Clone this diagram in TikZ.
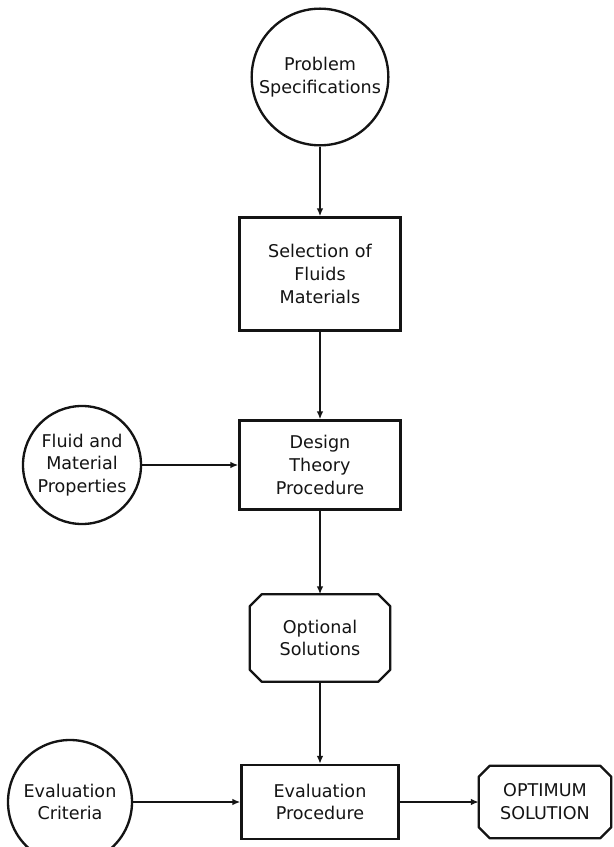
\documentclass[tikz,border=0pt]{standalone}
\usepackage{fontspec}
\setmainfont{DejaVu Sans}
\usepackage{tikz}
\usetikzlibrary{arrows.meta}
\definecolor{InkBlack}{HTML}{141414}
\tikzset{
  circ/.style={draw=InkBlack, line width=2pt, circle, inner sep=0pt, align=center},
  stagebox/.style={draw=InkBlack, line width=2pt, rectangle, inner sep=0pt, align=center},
  chambox/.style={rectangle, inner sep=0pt, align=center},
  flow/.style={draw=InkBlack, line width=1.8pt, -{Latex[length=2.4mm,width=2mm]}}
}
\newcommand{\chamferframe}[2]{%
  \draw[InkBlack, line width=2pt, line join=round]
    ([xshift=#2]#1.north west) -- ([xshift=-#2]#1.north east)
    -- ([yshift=-#2]#1.north east) -- ([yshift=#2]#1.south east)
    -- ([xshift=-#2]#1.south east) -- ([xshift=#2]#1.south west)
    -- ([yshift=#2]#1.south west) -- ([yshift=-#2]#1.north west) -- cycle;}

\begin{document}
\begin{tikzpicture}[x=0.03cm, y=-0.03cm, font=\fontsize{15}{19.5}\selectfont, text=InkBlack]
\useasboundingbox (0,0) rectangle (613,847);
\fill[white] (0,0) rectangle (613,847);
\node[circ, minimum size=4.1cm] (prob) at (320,77) {Problem\\Specifications};
\node[stagebox, minimum width=4.83cm, minimum height=3.39cm] (sel) at (320,274) {Selection of\\Fluids\\Materials};
\node[circ, minimum size=3.54cm] (props) at (82,465) {Fluid and\\Material\\Properties};
\node[stagebox, minimum width=4.83cm, minimum height=2.67cm] (design) at (320,465) {Design\\Theory\\Procedure};
\node[chambox, minimum width=4.2cm, minimum height=2.61cm] (options) at (320,638) {Optional\\Solutions};
\node[stagebox, minimum width=4.71cm, minimum height=2.22cm] (evalproc) at (320,802) {Evaluation\\Procedure};
\node[circ, minimum size=3.72cm] (criteria) at (70,802) {Evaluation\\Criteria};
\node[chambox, minimum width=3.96cm, minimum height=2.16cm] (optimum) at (545,802) {OPTIMUM\\SOLUTION};
\chamferframe{options}{0.36cm}
\chamferframe{optimum}{0.33cm}
\draw[flow] (prob) -- (sel);
\draw[flow] (sel) -- (design);
\draw[flow] (props) -- (design);
\draw[flow] (design) -- (options);
\draw[flow] (options) -- (evalproc);
\draw[flow] (criteria) -- (evalproc);
\draw[flow] (evalproc) -- (optimum);
\end{tikzpicture}
\end{document}
